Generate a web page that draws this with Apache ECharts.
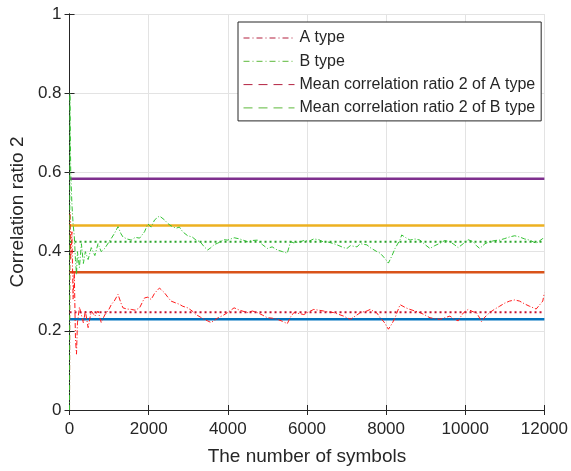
<!DOCTYPE html>
<html>
<head>
<meta charset="utf-8">
<script src="https://cdn.jsdelivr.net/npm/echarts@6/dist/echarts.min.js"></script>
<style>
  html, body { margin: 0; padding: 0; background: #fff; }
  #chart { width: 571px; height: 471px; }
</style>
</head>
<body>
<div id="chart"></div>
<script>
// x positions (number of symbols) where the curves were read
var symbols = [0, 10, 30, 60, 90, 120, 150, 176, 200, 250, 300, 350, 400, 470, 550, 640, 720, 800, 890,
  1000, 1060, 1130, 1225, 1300, 1350, 1450, 1560, 1660, 1770, 1895, 1980, 2063, 2150, 2273, 2315, 2400,
  2483, 2566, 2692, 2776, 2860, 2986, 3100, 3196, 3300, 3405, 3490, 3573, 3660, 3741, 3783, 3900, 3993,
  4159, 4300, 4495, 4620, 4746, 4870, 5000, 5120, 5251, 5380, 5503, 5586, 5670, 5837, 5921, 6050, 6173,
  6300, 6424, 6509, 6676, 6761, 6928, 7012, 7096, 7264, 7348, 7516, 7599, 7767, 7851, 7950, 8059, 8150,
  8227, 8353, 8395, 8500, 8604, 8730, 8856, 8980, 9108, 9230, 9360, 9480, 9611, 9720, 9821, 9863, 9950,
  10073, 10115, 10200, 10283, 10366, 10409, 10500, 10618, 10750, 10870, 11000, 11121, 11250, 11373,
  11500, 11625, 11793, 11834, 11960, 12000];

var typeA = [0, 0.50, 0.38, 0.45, 0.28, 0.35, 0.18, 0.141, 0.22, 0.26, 0.257, 0.22, 0.25, 0.208, 0.25, 0.237, 0.25, 0.221, 0.240,
  0.255, 0.267, 0.275, 0.292, 0.270, 0.258, 0.255, 0.254, 0.252, 0.258, 0.283, 0.285, 0.279, 0.295, 0.308, 0.305, 0.296,
  0.285, 0.275, 0.270, 0.267, 0.262, 0.258, 0.250, 0.241, 0.235, 0.229, 0.225, 0.221, 0.226, 0.232, 0.233, 0.240, 0.246,
  0.258, 0.252, 0.246, 0.250, 0.246, 0.240, 0.233, 0.232, 0.229, 0.224, 0.218, 0.235, 0.246, 0.243, 0.241, 0.248, 0.254,
  0.252, 0.250, 0.248, 0.246, 0.243, 0.237, 0.233, 0.229, 0.240, 0.246, 0.250, 0.254, 0.245, 0.233, 0.222, 0.204, 0.218,
  0.233, 0.266, 0.262, 0.258, 0.254, 0.250, 0.246, 0.240, 0.233, 0.231, 0.229, 0.233, 0.237, 0.230, 0.225, 0.232, 0.245,
  0.254, 0.250, 0.248, 0.246, 0.232, 0.223, 0.235, 0.246, 0.255, 0.262, 0.270, 0.275, 0.278, 0.275,
  0.268, 0.262, 0.255, 0.254, 0.275, 0.296];

var typeB = [0, 0.80, 0.60, 0.52, 0.47, 0.44, 0.38, 0.342, 0.40, 0.36, 0.42, 0.37, 0.40, 0.38, 0.41, 0.39, 0.42, 0.40, 0.408,
  0.425, 0.434, 0.445, 0.463, 0.445, 0.437, 0.432, 0.429, 0.436, 0.434, 0.450, 0.470, 0.462, 0.480, 0.490, 0.492, 0.480,
  0.471, 0.465, 0.459, 0.462, 0.450, 0.440, 0.437, 0.429, 0.425, 0.412, 0.404, 0.410, 0.418, 0.421, 0.425, 0.430, 0.429,
  0.435, 0.432, 0.425, 0.428, 0.429, 0.418, 0.408, 0.412, 0.404, 0.400, 0.396, 0.425, 0.422, 0.425, 0.428, 0.426, 0.432,
  0.430, 0.424, 0.425, 0.420, 0.417, 0.410, 0.408, 0.415, 0.412, 0.420, 0.417, 0.410, 0.400, 0.396, 0.385, 0.371, 0.390,
  0.408, 0.430, 0.442, 0.435, 0.429, 0.432, 0.429, 0.418, 0.408, 0.415, 0.421, 0.428, 0.425, 0.418, 0.410, 0.408, 0.420,
  0.430, 0.434, 0.425, 0.415, 0.408, 0.412, 0.420, 0.425, 0.428, 0.429, 0.433, 0.437, 0.440, 0.437,
  0.432, 0.429, 0.421, 0.425, 0.433, 0.437];

var meanA = 0.247;
var meanB = 0.425;
// the four plain horizontal levels (not in legend)
var levels = [0.584, 0.466, 0.348, 0.229];
var levelColors = ['#7E2F8E', '#EDB120', '#D95319', '#0072BD'];

var xTicks = [0, 2000, 4000, 6000, 8000, 10000, 12000];
var yTicks = [0, 0.2, 0.4, 0.6, 0.8, 1];

var legendNames = ['A type', 'B type', 'Mean correlation ratio 2 of A type', 'Mean correlation ratio 2 of B type'];

function pairs(xs, ys) {
  return xs.map(function (x, i) { return [x, ys[i]]; });
}
function flat(v) {
  return [[xTicks[0], v], [xTicks[xTicks.length - 1], v]];
}

var chart = echarts.init(document.getElementById('chart'));
var font = 'Liberation Sans, Arial, sans-serif';

var series = [];
levels.forEach(function (v, i) {
  series.push({
    name: 'level' + i, type: 'line', data: flat(v), symbol: 'none', silent: true,
    lineStyle: { color: levelColors[i], width: 2.5 }, z: 2
  });
});
series.push({
  name: legendNames[0], type: 'line', data: pairs(symbols, typeA), symbol: 'none',
  lineStyle: { color: '#ff1a1a', width: 1, type: [5, 2, 1, 2] }, itemStyle: { color: '#ff1a1a' }, z: 3
});
series.push({
  name: legendNames[1], type: 'line', data: pairs(symbols, typeB), symbol: 'none',
  lineStyle: { color: '#33c233', width: 1, type: [5, 2, 1, 2] }, itemStyle: { color: '#33c233' }, z: 3
});
series.push({
  name: legendNames[2], type: 'line', data: flat(meanA), symbol: 'none',
  lineStyle: { color: '#c8102e', width: 2, type: [2, 3] }, itemStyle: { color: '#c8102e' }, z: 4
});
series.push({
  name: legendNames[3], type: 'line', data: flat(meanB), symbol: 'none',
  lineStyle: { color: '#2aa52a', width: 2, type: [2, 3] }, itemStyle: { color: '#2aa52a' }, z: 4
});

var tickStyle = { inside: true, length: 5, lineStyle: { color: '#262626' } };
var axisLineStyle = { show: true, lineStyle: { color: '#262626', width: 1 } };
var plain = function (v) { return String(v); };
var noMarker = { opacity: 0, borderWidth: 0 };

chart.setOption({
  animation: false,
  backgroundColor: '#fff',
  grid: { left: 68, right: 26, top: 14, bottom: 58 },
  legend: {
    orient: 'vertical', left: 238, top: 22,
    padding: [8, 6, 5, 5],
    itemGap: 7.3, itemWidth: 51, itemHeight: 14,
    borderColor: '#262626', borderWidth: 1,
    backgroundColor: '#fff',
    textStyle: { fontFamily: font, fontSize: 16, color: '#262626' },
    data: [
      { name: legendNames[0], itemStyle: noMarker, lineStyle: { color: '#b3203f', type: [6, 3, 1, 3], width: 1 } },
      { name: legendNames[1], itemStyle: noMarker, lineStyle: { color: '#5cb83a', type: [6, 3, 1, 3], width: 1 } },
      { name: legendNames[2], itemStyle: noMarker, lineStyle: { color: '#b3203f', type: [9, 6], width: 1 } },
      { name: legendNames[3], itemStyle: noMarker, lineStyle: { color: '#5cb83a', type: [9, 6], width: 1 } }
    ]
  },
  xAxis: [{
    type: 'value', min: xTicks[0], max: xTicks[xTicks.length - 1], interval: xTicks[1] - xTicks[0],
    name: 'The number of symbols', nameLocation: 'middle', nameGap: 37,
    nameTextStyle: { fontFamily: font, fontSize: 19, color: '#262626' },
    axisLine: axisLineStyle, axisTick: tickStyle,
    axisLabel: { fontFamily: font, fontSize: 17, color: '#262626', margin: 11, formatter: plain },
    splitLine: { show: true, lineStyle: { color: '#e3e3e3', width: 1 } }
  }, {
    type: 'value', position: 'top', min: xTicks[0], max: xTicks[xTicks.length - 1], interval: xTicks[1] - xTicks[0],
    axisLine: axisLineStyle, axisTick: tickStyle, axisLabel: { show: false }, splitLine: { show: false }
  }],
  yAxis: [{
    type: 'value', min: yTicks[0], max: yTicks[yTicks.length - 1], interval: yTicks[1] - yTicks[0],
    name: 'Correlation ratio 2', nameLocation: 'middle', nameGap: 40,
    nameTextStyle: { fontFamily: font, fontSize: 19, color: '#262626' },
    axisLine: axisLineStyle, axisTick: tickStyle,
    axisLabel: { fontFamily: font, fontSize: 17, color: '#262626', margin: 8, formatter: plain },
    splitLine: { show: true, lineStyle: { color: '#e3e3e3', width: 1 } }
  }, {
    type: 'value', position: 'right', min: yTicks[0], max: yTicks[yTicks.length - 1], interval: yTicks[1] - yTicks[0],
    axisLine: axisLineStyle, axisTick: tickStyle, axisLabel: { show: false }, splitLine: { show: false }
  }],
  series: series
});
</script>
</body>
</html>
